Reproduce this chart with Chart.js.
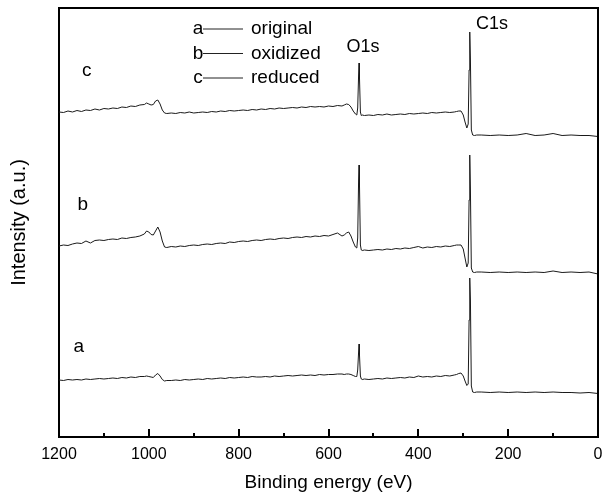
<!DOCTYPE html>
<html>
<head>
<meta charset="utf-8">
<script src="https://cdn.jsdelivr.net/npm/chart.js@4.4.1/dist/chart.umd.min.js"></script>
<style>
  html, body { margin: 0; padding: 0; background: #fff; }
</style>
</head>
<body>
<canvas id="xps" width="603" height="500"></canvas>
<script>
// binding energy grid (eV), denser around the 980, O1s and C1s features
const energy = [
  1200, 1190, 1180, 1170, 1160, 1150, 1140, 1130, 1120, 1110, 1100, 1090, 1080, 1070, 1060, 1050, 1040, 1030, 1020,
  1010, 1005, 1000, 995, 990, 985, 980, 975, 970, 965, 960,
  950, 940, 930, 920, 910, 900, 890, 880, 870, 860, 850, 840, 830, 820, 810, 800, 790, 780, 770, 760,
  750, 740, 730, 720, 710, 700, 690, 680, 670, 660, 650, 640, 630, 620, 610, 600, 590, 580,
  570, 565, 560, 555, 550, 545, 540, 537, 535, 533, 532, 531, 529, 527, 525, 520,
  510, 500, 490, 480, 470, 460, 450, 440, 430, 420, 410, 400, 390, 380, 370, 360, 350, 340, 330, 320,
  315, 310, 305, 300, 296, 292, 289, 287, 285.5, 284, 282, 279, 275, 270,
  260, 240, 220, 200, 180, 160, 140, 120, 100, 80, 60, 40, 20, 0
];

// intensities (a.u.), spectra stacked a / b / c
const original = [
  57, 56.5, 57.5, 57, 57.5, 57, 58, 57.5, 58, 58.5, 58, 58.5, 59, 58.5, 59.5, 59, 60, 59.5, 60.5,
  60.5, 61, 60.5, 60, 59.5, 62, 63.5, 61, 57.5, 56, 56.5,
  56.5, 57, 56.5, 57.5, 57, 57.5, 58, 57.5, 58.5, 58, 58.5, 59, 58.5, 59.5, 59, 59.5, 60, 59.5, 60.5, 60,
  60, 60.5, 60, 61, 60.5, 61, 61.5, 61, 61.5, 62, 61.5, 62, 61.5, 62.5, 62, 62.5, 62.5, 63,
  63, 62.5, 63, 63, 62.5, 61.5, 60.5, 60.5, 67, 85, 93, 82, 61, 58, 57.5, 58,
  57.5, 58, 58.5, 58, 59, 58.5, 59, 59.5, 59, 60, 59.5, 61, 60, 60.5, 60, 61, 60.5, 61.5, 61, 62,
  62.5, 63.5, 64, 61, 56, 51.5, 53, 117, 159, 137, 51, 45, 44.5, 45,
  45, 44.5, 45, 44.5, 45, 44.5, 45, 44.5, 45, 44.5, 44.5, 44, 44.5, 43.5
];
const oxidized = [
  191, 192, 191.5, 193, 194, 193.5, 196, 194, 196.5, 197, 196.5, 197.5, 198, 197.5, 199, 198.5, 199.5, 200, 201,
  203, 206, 205, 202.5, 202, 206, 210, 205, 196, 190, 189.5,
  190.5, 190, 191, 190.5, 191.5, 192, 191.5, 192.5, 193, 192.5, 193.5, 194, 193.5, 195, 194.5, 195.5, 196, 195.5, 196.5, 197,
  196.5, 197.5, 198, 197.5, 198.5, 199, 198.5, 199.5, 200, 199.5, 200.5, 200, 201, 200.5, 201.5, 201, 202.5, 204,
  201, 202, 204, 205, 201, 195, 190, 189, 199, 257, 272, 252, 192, 187, 186.5, 187,
  186.5, 187, 187.5, 187, 188, 187.5, 188.5, 188, 189, 188.5, 189.5, 190.5, 189, 190, 189.5, 190.5, 190, 191, 190.5, 191.5,
  192, 192, 192, 188, 179, 170, 174, 237, 282, 247, 169, 165, 164.5, 165,
  165, 164.5, 165, 164.5, 165, 164.5, 165, 164.5, 166, 164.5, 165, 164.5, 165, 163
];
const reduced = [
  325, 324.5, 326, 325, 326.5, 325.5, 327, 326.5, 328, 327, 328.5, 328, 329, 328.5, 330, 329.5, 331, 330.5, 332,
  332.5, 334, 333, 332, 332.5, 336, 337, 333, 327, 324, 323.5,
  324, 323.5, 324.5, 324, 325, 324, 324.5, 325, 324.5, 325.5, 325, 326, 325.5, 326.5, 326, 326.5, 327, 326.5, 327.5, 327,
  328, 327.5, 328.5, 328, 329, 328.5, 329, 329.5, 329, 330, 329.5, 330.5, 330, 330.5, 330, 331, 330.5, 331.5,
  331, 332, 333, 332.5, 330, 326, 323, 322, 329, 362, 374, 359, 325, 321.5, 322, 321.5,
  322, 321.5, 322.5, 322, 323, 322, 322.5, 323, 322.5, 323.5, 323, 323.5, 324, 323.5, 324.5, 324, 324.5, 325, 324.5, 325,
  325.5, 326, 326, 322, 315, 309, 313, 367, 405, 377, 307, 302, 301.5, 302,
  302, 301.5, 302, 301.5, 302, 303.5, 301.5, 302, 303.5, 301.5, 302, 301.5, 301.5, 300.5
];

const legendTags = ['a', 'b', 'c'];
const legendNames = ['original', 'oxidized', 'reduced'];

// text placed in data coordinates (energy, intensity)
const curveTags = [
  { text: 'c', e: 1138, v: 366 },
  { text: 'b', e: 1147, v: 232 },
  { text: 'a', e: 1156, v: 90 }
];
const peakTags = [
  { text: 'O1s', e: 523, v: 390 },
  { text: 'C1s', e: 236, v: 413 }
];

const FONT = '"Liberation Sans", Arial, sans-serif';
Chart.defaults.font.family = FONT;
Chart.defaults.color = '#000';

const toPoints = arr => energy.map((e, i) => ({ x: e, y: arr[i] }));

const decor = {
  id: 'decor',
  afterDraw(chart) {
    const { ctx, chartArea: area, scales: { x, y } } = chart;
    ctx.save();
    ctx.strokeStyle = '#000';
    ctx.lineWidth = 2;
    // top and right sides of the box
    ctx.beginPath();
    ctx.moveTo(area.left, area.top);
    ctx.lineTo(area.right, area.top);
    ctx.lineTo(area.right, area.bottom);
    ctx.stroke();

    // tick marks point into the plot
    x.ticks.forEach(t => {
      if (t.value === 0 || t.value === 1200) return;
      const px = Math.round(x.getPixelForValue(t.value));
      const len = t.value % 200 === 0 ? 8 : 4;
      ctx.beginPath();
      ctx.moveTo(px, area.bottom);
      ctx.lineTo(px, area.bottom - len);
      ctx.stroke();
    });

    ctx.fillStyle = '#000';
    ctx.textAlign = 'center';
    ctx.textBaseline = 'middle';
    ctx.font = '19px ' + FONT;
    curveTags.forEach(t => ctx.fillText(t.text, x.getPixelForValue(t.e), y.getPixelForValue(t.v)));
    ctx.font = '18px ' + FONT;
    peakTags.forEach(t => ctx.fillText(t.text, x.getPixelForValue(t.e), y.getPixelForValue(t.v)));

    // legend: letter, short line, sample name
    ctx.font = '19px ' + FONT;
    ctx.lineWidth = 1;
    ctx.strokeStyle = '#222';
    legendTags.forEach((tag, i) => {
      const ly = 29 + i * 24.5;
      ctx.textAlign = 'center';
      ctx.fillText(tag, 198, ly);
      ctx.beginPath();
      ctx.moveTo(203, ly);
      ctx.lineTo(243, ly);
      ctx.stroke();
      ctx.textAlign = 'left';
      ctx.fillText(legendNames[i], 251, ly);
    });
    ctx.restore();
  }
};

new Chart(document.getElementById('xps'), {
  type: 'line',
  data: {
    datasets: [
      { label: 'original', data: toPoints(original) },
      { label: 'oxidized', data: toPoints(oxidized) },
      { label: 'reduced', data: toPoints(reduced) }
    ]
  },
  options: {
    responsive: false,
    animation: false,
    layout: { padding: { top: 8, right: 5, left: 0, bottom: 0 } },
    elements: {
      point: { radius: 0 },
      line: { borderWidth: 1, borderColor: '#1a1a1a', tension: 0, fill: false }
    },
    plugins: { legend: { display: false }, tooltip: { enabled: false } },
    scales: {
      x: {
        type: 'linear', reverse: true, min: 0, max: 1200,
        afterFit: s => {
          s.height = 63;
          // let the "0" label hang over the right edge instead of shrinking the plot
          s.paddingLeft = 0;
          s.paddingRight = 0;
        },
        grid: { display: false, drawTicks: false },
        border: { display: true, color: '#000', width: 2 },
        ticks: {
          stepSize: 100, autoSkip: false, maxRotation: 0, padding: 8,
          font: { size: 16 },
          callback: v => (v % 200 === 0 ? v : '')
        },
        title: { display: true, text: 'Binding energy (eV)', font: { size: 19 }, padding: { top: 0, bottom: 6 } }
      },
      y: {
        min: 0, max: 429,
        afterFit: s => { s.width = 59; },
        grid: { display: false, drawTicks: false },
        border: { display: true, color: '#000', width: 2 },
        ticks: { display: false },
        title: { display: true, text: 'Intensity (a.u.)', font: { size: 20 }, padding: { top: 7, bottom: 0 } }
      }
    }
  },
  plugins: [decor]
});
</script>
</body>
</html>
